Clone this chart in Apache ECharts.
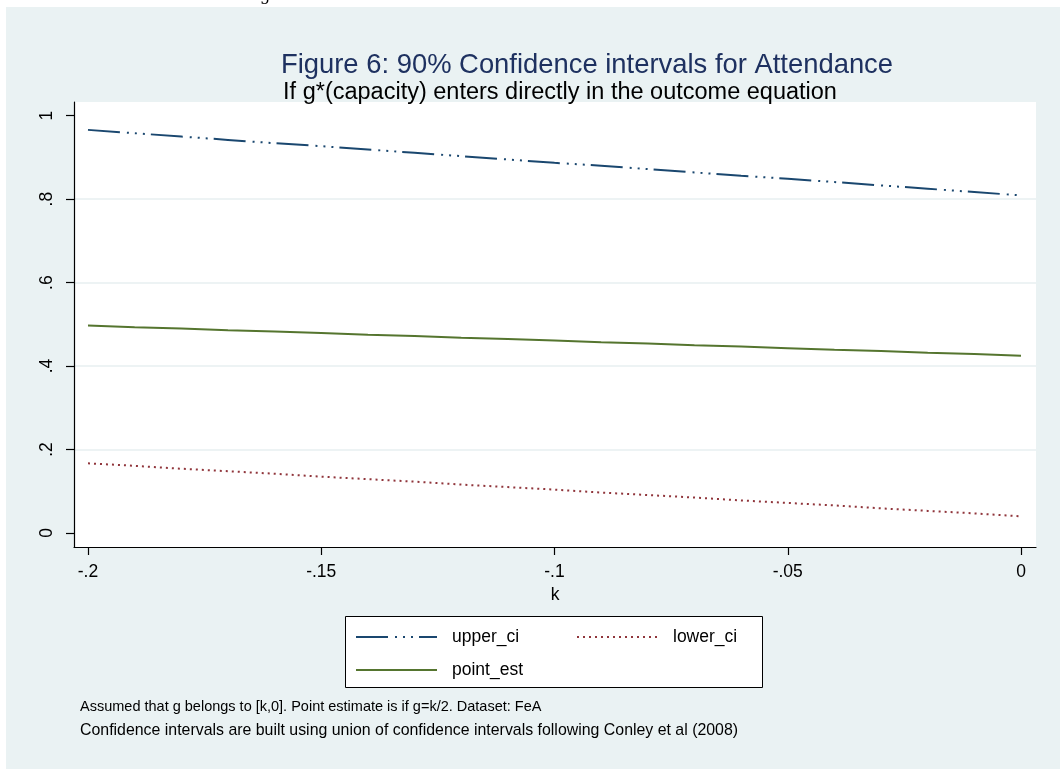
<!DOCTYPE html>
<html>
<head>
<meta charset="utf-8">
<script src="https://cdn.jsdelivr.net/npm/echarts@6/dist/echarts.min.js"></script>
<style>
  html, body { margin: 0; padding: 0; background: #ffffff; }
  #chart { width: 1060px; height: 769px; }
</style>
</head>
<body>
<div id="chart"></div>
<script>
// ---- data ----
const kValues = [-0.20, -0.19, -0.18, -0.17, -0.16, -0.15, -0.14, -0.13, -0.12, -0.11, -0.10,
                 -0.09, -0.08, -0.07, -0.06, -0.05, -0.04, -0.03, -0.02, -0.01, 0.00];
const upperCi = [0.966, 0.958, 0.950, 0.942, 0.934, 0.927, 0.919, 0.911, 0.903, 0.895, 0.887,
                 0.880, 0.872, 0.864, 0.856, 0.849, 0.841, 0.833, 0.825, 0.817, 0.809];
const lowerCi = [0.167, 0.161, 0.154, 0.148, 0.142, 0.135, 0.129, 0.123, 0.116, 0.110, 0.104,
                 0.097, 0.091, 0.085, 0.078, 0.072, 0.066, 0.059, 0.053, 0.047, 0.040];
const pointEst = [0.497, 0.493, 0.490, 0.486, 0.483, 0.479, 0.475, 0.472, 0.468, 0.465, 0.461,
                  0.457, 0.454, 0.450, 0.447, 0.443, 0.439, 0.436, 0.432, 0.429, 0.425];
const xTicks = [-0.2, -0.15, -0.1, -0.05, 0];
const xTickLabels = ['-.2', '-.15', '-.1', '-.05', '0'];
const yTicks = [0, 0.2, 0.4, 0.6, 0.8, 1];
const yTickLabels = ['0', '.2', '.4', '.6', '.8', '1'];
const seriesNames = ['upper_ci', 'lower_ci', 'point_est'];
const titleText = 'Figure 6: 90% Confidence intervals for Attendance';
const subtitleText = 'If g*(capacity) enters directly in the outcome equation';
const note1 = 'Assumed that g belongs to [k,0]. Point estimate is if g=k/2. Dataset: FeA';
const note2 = 'Confidence intervals are built using union of confidence intervals following Conley et al (2008)';

const FONT = '"Liberation Sans", Arial, Helvetica, sans-serif';
const pairs = (ys) => kValues.map((k, i) => [k, ys[i]]);
const lookup = (ticks, labels) => (v) => {
  for (let i = 0; i < ticks.length; i++) if (Math.abs(ticks[i] - v) < 1e-6) return labels[i];
  return '';
};

const chart = echarts.init(document.getElementById('chart'), null, { renderer: 'canvas' });

const legendCommon = {
  orient: 'horizontal',
  itemWidth: 81,
  itemHeight: 14,
  selectedMode: false,
  itemStyle: { opacity: 0 },
  textStyle: { fontFamily: FONT, fontSize: 17.5, color: '#000', padding: [0, 0, 0, 10] },
  padding: 0
};

chart.setOption({
  backgroundColor: '#ffffff',
  animation: false,
  textStyle: { fontFamily: FONT },
  title: [
    { text: titleText, left: 582, top: 47, textAlign: 'center',
      textStyle: { fontFamily: FONT, fontSize: 27.4, fontWeight: 'normal', color: '#1e3160' } },
    { text: subtitleText, left: 555, top: 76, textAlign: 'center',
      textStyle: { fontFamily: FONT, fontSize: 23.5, fontWeight: 'normal', color: '#000' } }
  ],
  graphic: [
    { type: 'rect', z: -10, silent: true, shape: { x: 6, y: 7, width: 1060, height: 770 },
      style: { fill: '#eaf2f3' } },
    { type: 'text', z: -5, silent: true, left: 260, top: -12,
      style: { text: 'g', font: '16px "DejaVu Serif", serif', fill: '#000' } },
    { type: 'rect', z: 1, silent: true, shape: { x: 345.5, y: 616.5, width: 417, height: 71 },
      style: { fill: '#ffffff', stroke: '#000', lineWidth: 1 } },
    { type: 'text', z: 2, silent: true, left: 80, top: 699,
      style: { text: note1, font: '14.5px ' + FONT, fill: '#000' } },
    { type: 'text', z: 2, silent: true, left: 80, top: 723,
      style: { text: note2, font: '15.9px ' + FONT, fill: '#000' } }
  ],
  legend: [
    Object.assign({}, legendCommon, { data: ['upper_ci'], left: 355, top: 628, z: 5 }),
    Object.assign({}, legendCommon, { data: ['lower_ci'], left: 576, top: 628, z: 5 }),
    Object.assign({}, legendCommon, { data: ['point_est'], left: 355, top: 661, z: 5 })
  ],
  grid: {
    left: 74, right: 24, top: 102, bottom: 222,
    show: true, backgroundColor: '#ffffff', borderWidth: 0
  },
  xAxis: {
    type: 'value',
    min: -0.20300, max: 0.003215,
    name: 'k', nameLocation: 'middle', nameGap: 38,
    nameTextStyle: { fontFamily: FONT, fontSize: 17.5, color: '#000' },
    axisLine: { show: true, onZero: false, lineStyle: { color: '#000', width: 1.2 } },
    axisTick: { show: true, inside: false, length: 8, customValues: xTicks,
      lineStyle: { color: '#000', width: 1.2 } },
    axisLabel: { show: true, customValues: xTicks, margin: 16, formatter: lookup(xTicks, xTickLabels),
      fontFamily: FONT, fontSize: 17.5, color: '#000' },
    splitLine: { show: false }
  },
  yAxis: {
    type: 'value',
    min: -0.03355, max: 1.0328,
    splitNumber: 5,
    axisLine: { show: true, onZero: false, lineStyle: { color: '#000', width: 1.2 } },
    axisTick: { show: true, inside: false, length: 8, customValues: yTicks,
      lineStyle: { color: '#000', width: 1.2 } },
    axisLabel: { show: true, customValues: yTicks, rotate: 90, margin: 18,
      formatter: lookup(yTicks, yTickLabels), fontFamily: FONT, fontSize: 17.5, color: '#000' },
    splitLine: { show: true, showMinLine: false, showMaxLine: false,
      lineStyle: { color: '#e7eff1', width: 1.5 } }
  },
  series: [
    { name: seriesNames[0], type: 'line', data: pairs(upperCi), showSymbol: false, symbol: 'none',
      lineStyle: { color: '#1a476f', width: 2, type: [32, 7, 2, 6, 2, 6, 2, 6], cap: 'butt' },
      itemStyle: { color: '#1a476f' }, z: 3 },
    { name: seriesNames[1], type: 'line', data: pairs(lowerCi), showSymbol: false, symbol: 'none',
      lineStyle: { color: '#90353b', width: 2, type: [2, 4], cap: 'butt' },
      itemStyle: { color: '#90353b' }, z: 3 },
    { name: seriesNames[2], type: 'line', data: pairs(pointEst), showSymbol: false, symbol: 'none',
      lineStyle: { color: '#55752f', width: 2, type: 'solid' },
      itemStyle: { color: '#55752f' }, z: 3 }
  ]
});
</script>
</body>
</html>
